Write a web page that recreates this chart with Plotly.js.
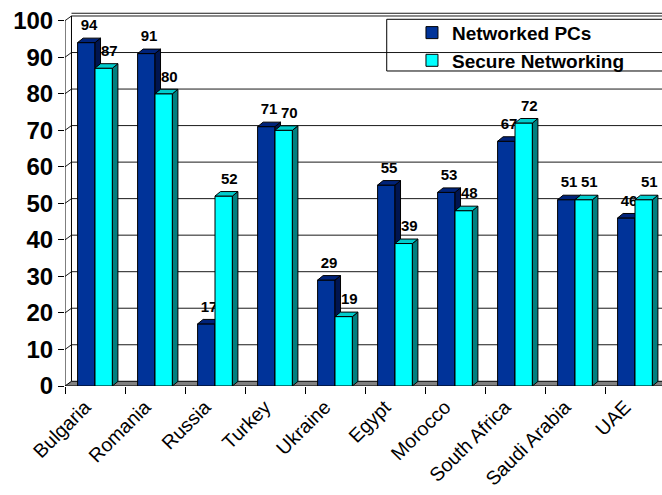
<!DOCTYPE html>
<html>
<head>
<meta charset="utf-8">
<script src="https://cdn.plot.ly/plotly-3.0.1.min.js"></script>
<style>
  html, body { margin: 0; padding: 0; background: #fff; }
  #chart { width: 662px; height: 495px; }
</style>
</head>
<body>
<div id="chart"></div>
<script>
// Survey results per country (percent)
const categories = ['Bulgaria', 'Romania', 'Russia', 'Turkey', 'Ukraine',
                    'Egypt', 'Morocco', 'South Africa', 'Saudi Arabia', 'UAE'];
const networkedPCs = [94, 91, 17, 71, 29, 55, 53, 67, 51, 46];
const secureNetworking = [87, 80, 52, 70, 19, 39, 48, 72, 51, 51];
const yTicks = [0, 10, 20, 30, 40, 50, 60, 70, 80, 90, 100];

// Geometry of the pseudo-3D look (axis units)
const FONT = 'Liberation Sans, Arial, Helvetica, sans-serif';
const X_MIN = -0.5, X_MAX = 9.45, Y_MAX = 102.93;
const BAR_W = 0.29;          // width of one bar
const BAR_DX = 0.092;        // bar depth, x direction
const BAR_DY = 1.23;         // bar depth, y direction
const WALL_DX = 0.108;       // wall depth, x direction
const WALL_DY = 1.29;        // wall depth, y direction
const LABEL_LIFT = 1.1;      // extra gap between a bar top and its value label

const idx = categories.map((_, i) => i);
const boundaries = categories.map((_, i) => i - 0.5);

// Build the top and side faces of each bar as closed polygons
function faces(values, offset) {
  const top = { x: [], y: [] }, side = { x: [], y: [] };
  values.forEach((v, i) => {
    const x0 = i + offset, x1 = x0 + BAR_W;
    top.x.push(x0, x1, x1 + BAR_DX, x0 + BAR_DX, x0, null);
    top.y.push(v, v, v + BAR_DY, v + BAR_DY, v, null);
    side.x.push(x1, x1, x1 + BAR_DX, x1 + BAR_DX, x1, null);
    side.y.push(0, v, v + BAR_DY, BAR_DY, 0, null);
  });
  return { top, side };
}

function seriesTraces(name, values, offset, labelDx, colors, xa, ya) {
  const f = faces(values, offset);
  return [
    {
      type: 'bar', name: name, x: idx, y: values,
      offset: offset, width: BAR_W,
      marker: { color: colors.front, line: { color: '#000', width: 1 } },
      xaxis: xa, yaxis: ya, hoverinfo: 'skip'
    },
    {
      type: 'scatter', mode: 'lines', x: f.side.x, y: f.side.y,
      fill: 'toself', fillcolor: colors.side,
      line: { color: '#000', width: 1 }, showlegend: false,
      xaxis: xa, yaxis: ya, hoverinfo: 'skip'
    },
    {
      type: 'scatter', mode: 'lines', x: f.top.x, y: f.top.y,
      fill: 'toself', fillcolor: colors.top,
      line: { color: '#000', width: 1 }, showlegend: false,
      xaxis: xa, yaxis: ya, hoverinfo: 'skip'
    },
    {
      type: 'scatter', mode: 'text',
      x: values.map((v, i) => i + offset + BAR_W / 2 + labelDx),
      y: values.map(v => v + BAR_DY + LABEL_LIFT),
      text: values.map(String), textposition: 'top center',
      textfont: { family: FONT, size: 15, color: '#000', weight: 'bold' },
      cliponaxis: false, showlegend: false,
      xaxis: xa, yaxis: ya, hoverinfo: 'skip'
    }
  ];
}

const data = [
  ...seriesTraces('Networked PCs', networkedPCs, -BAR_W, BAR_DX / 2,
    { front: '#003399', top: '#00237a', side: '#001550' }, 'x', 'y'),
  ...seriesTraces('Secure Networking', secureNetworking, 0, BAR_DX,
    { front: '#00ffff', top: '#00cccc', side: '#008080' }, 'x2', 'y2')
];

// Walls, floor and gridlines behind the bars
const shapes = [];
const wx = X_MIN + WALL_DX;
shapes.push({
  type: 'path', xref: 'x', yref: 'y', layer: 'below',
  path: `M${X_MIN},0 L${X_MAX + 1},0 L${X_MAX + 1},${WALL_DY} L${wx},${WALL_DY} Z`,
  fillcolor: '#808080', line: { color: '#000', width: 1 }
});
yTicks.forEach(v => {
  if (v === 0) return;
  shapes.push({
    type: 'path', xref: 'x', yref: 'y', layer: 'below',
    path: `M${X_MIN},${v} L${wx},${v + WALL_DY} L${X_MAX + 1},${v + WALL_DY}`,
    line: { color: '#1a1a1a', width: 1 }
  });
});
// doubled top edge of the back wall
shapes.push({
  type: 'line', xref: 'x', yref: 'y', layer: 'below',
  x0: wx, x1: X_MAX + 1, y0: 100 + WALL_DY + 0.75, y1: 100 + WALL_DY + 0.75,
  line: { color: '#1a1a1a', width: 1 }
});
// back wall left edge and the value axis line
shapes.push({
  type: 'line', xref: 'x', yref: 'y', layer: 'below',
  x0: wx, x1: wx, y0: WALL_DY, y1: 100 + WALL_DY,
  line: { color: '#000', width: 1 }
});
shapes.push({
  type: 'line', xref: 'x', yref: 'y', layer: 'below',
  x0: X_MIN, x1: X_MIN, y0: 0, y1: 100,
  line: { color: '#000', width: 1 }
});
// legend frame
shapes.push({
  type: 'rect', xref: 'paper', yref: 'paper', layer: 'above',
  x0: 0.5389, x1: 1.02, y0: 0.8378, y1: 0.9753,
  fillcolor: 'rgba(255,255,255,0)', line: { color: '#000', width: 1 }
});

const layout = {
  width: 662, height: 495,
  margin: { l: 65, r: 0, t: 10, b: 109, pad: 0 },
  paper_bgcolor: '#fff', plot_bgcolor: '#fff',
  barmode: 'overlay',
  showlegend: true,
  legend: {
    x: 0.5812, y: 0.99, xanchor: 'left', yanchor: 'top',
    bgcolor: 'rgba(0,0,0,0)', borderwidth: 0, tracegroupgap: 0,
    font: { family: FONT, size: 19, color: '#000', weight: 'bold' }
  },
  xaxis: {
    range: [X_MIN, X_MAX], tickmode: 'array', tickvals: idx, ticktext: categories,
    tickangle: -45, ticks: '', showgrid: false, zeroline: false, showline: false,
    ticklabelstandoff: 5, ticklabelshift: -10,
    tickfont: { family: FONT, size: 19.5, color: '#000' },
    minor: { tickmode: 'array', tickvals: boundaries, ticks: 'outside',
             ticklen: 7, tickwidth: 1, tickcolor: '#000', showgrid: false }
  },
  yaxis: {
    range: [0, Y_MAX], tickmode: 'array', tickvals: yTicks,
    ticks: 'outside', ticklen: 6, tickwidth: 1, tickcolor: '#000',
    showgrid: false, zeroline: false, showline: false,
    tickfont: { family: FONT, size: 24, color: '#000', weight: 'bold' }
  },
  xaxis2: { range: [X_MIN, X_MAX], overlaying: 'x', anchor: 'y2', visible: false },
  yaxis2: { range: [0, Y_MAX], overlaying: 'y', anchor: 'x2', visible: false },
  shapes: shapes
};

Plotly.newPlot('chart', data, layout, { staticPlot: true, displayModeBar: false });
</script>
</body>
</html>
